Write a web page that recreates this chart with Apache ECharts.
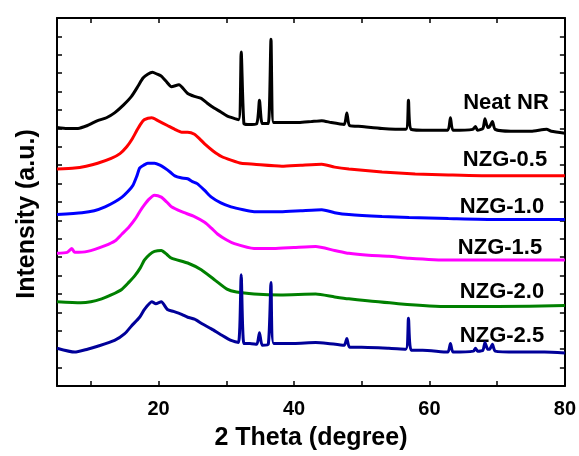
<!DOCTYPE html>
<html>
<head>
<meta charset="utf-8">
<script src="https://cdn.jsdelivr.net/npm/echarts@6/dist/echarts.min.js"></script>
<style>
  html, body { margin: 0; padding: 0; background: #fff; }
  #main { width: 579px; height: 456px; }
</style>
</head>
<body>
<div id="main"></div>
<script>
// 2 Theta (deg), intensity (a.u., offset per pattern)
const neatNR = [
  [5, 267], [6.5, 266], [8.1, 266], [9.5, 269], [11, 274], [12.3, 277], [13.5, 282],
  [14.8, 290], [16, 299], [17, 310], [17.7, 318], [18.4, 322], [19.1, 324], [19.8, 322],
  [20.4, 320], [21.2, 314], [21.9, 309], [23, 311], [24.3, 302], [25.3, 299], [26.3, 297],
  [27.2, 292], [28.2, 287], [29.2, 283], [30.1, 279], [31.8, 275], [32.2, 345], [32.6, 271],
  [33.2, 270], [34.5, 271], [34.9, 295], [35.3, 271], [36.2, 271], [36.6, 358], [37.0, 272],
  [38.5, 272], [40.7, 272], [42.5, 273], [44.1, 274], [45.5, 272], [47.4, 270], [47.8, 282],
  [48.2, 269], [50, 268], [53, 266], [56.5, 265], [56.9, 295], [57.3, 265], [60, 264],
  [62.7, 264], [63.1, 277], [63.5, 264], [66.4, 265], [66.8, 268], [67.1, 264], [67.9, 266],
  [68.2, 276], [68.6, 267], [68.9, 268], [69.3, 273], [69.7, 265], [72, 263], [75, 263],
  [77.3, 265], [78, 263], [80, 261]
];
const nzg05 = [
  [5, 224], [7.6, 225], [9.3, 227], [11, 230], [13, 235], [14.3, 240], [15.3, 247],
  [16.1, 255], [16.8, 264], [17.4, 271], [17.9, 275], [19, 277], [19.9, 274], [21.3, 269],
  [22.4, 265], [23.4, 262], [24.3, 262], [25.3, 260], [26.1, 255], [26.8, 250], [28, 243],
  [29.3, 237], [30.8, 233], [32.2, 230], [34.1, 229], [38.2, 227], [41, 228], [44.1, 229],
  [46, 226], [48.1, 224], [53, 221], [57.9, 219], [62.8, 218], [70, 217], [80, 217]
];
const nzg10 = [
  [5, 177], [8.7, 179], [10.5, 181], [12.1, 185], [13.5, 190], [14.6, 195], [15.5, 201],
  [16.2, 207], [16.8, 217], [17.2, 225], [17.8, 228], [18.4, 230], [19.4, 230], [20.2, 228],
  [20.9, 225], [21.7, 221], [22.4, 217], [23.3, 215], [24.3, 214], [25, 211], [25.7, 209],
  [26.8, 202], [27.8, 195], [29.2, 189], [30.7, 185], [32.5, 182], [34.1, 180], [38, 180],
  [41, 181], [44.1, 182], [46, 179], [48.1, 177], [53, 175], [57, 174], [62.8, 173],
  [70, 172], [80, 172]
];
const nzg15 = [
  [5, 137], [6.5, 138], [7.2, 142], [7.6, 138], [9.5, 139], [12.1, 145], [13.6, 150],
  [14.6, 157], [15.6, 164], [16.5, 172], [17.3, 181], [17.9, 187], [18.6, 193], [19.4, 197],
  [20.4, 195], [21.2, 190], [21.9, 185], [23.4, 180], [25.3, 175], [26.8, 169], [27.8, 163],
  [28.7, 157], [30, 151], [31.2, 147], [34.1, 142], [37, 142], [40, 143], [43.2, 144],
  [46, 140], [48.1, 137], [51, 135], [54, 134], [57, 132], [62.8, 130], [70, 130], [80, 130]
];
const nzg20 = [
  [5, 87], [8.5, 86], [10, 87], [11.6, 90], [13, 94], [14.6, 100], [15.6, 107], [16.5, 114],
  [17.3, 122], [17.9, 130], [18.7, 136], [19.4, 139], [20.4, 140], [21.2, 136], [21.9, 132],
  [24.3, 127], [26.3, 120], [28.2, 110], [30.1, 100], [31.5, 97], [34.1, 95], [38, 94],
  [43.2, 95], [46, 92], [48.1, 90], [55.4, 85], [62.8, 82], [70, 82], [80, 83]
];
const nzg25 = [
  [5, 39], [7.6, 35], [9.5, 38], [11, 41], [13.5, 47], [15, 54], [16, 62], [17.2, 71],
  [17.9, 79], [19, 87], [19.6, 85], [20.4, 87], [21.3, 79], [22.2, 77], [23.4, 74],
  [24.3, 71], [25.3, 69], [26.5, 64], [27.8, 59], [29.2, 53], [30.7, 47], [31.8, 45],
  [32.2, 115], [32.6, 44], [33.5, 44], [34.5, 43], [34.9, 55], [35.3, 42], [36.2, 43],
  [36.6, 107], [37.0, 44], [40, 44], [43.2, 45], [45, 44], [47.4, 42], [47.8, 49], [48.2, 40],
  [50, 40], [54, 39], [56.5, 38], [56.9, 70], [57.3, 37], [59, 37], [62.7, 35], [63.1, 44],
  [63.5, 35], [66.5, 36], [66.8, 39], [67.1, 36], [67.9, 37], [68.2, 45], [68.6, 38],
  [68.9, 38], [69.3, 43], [69.7, 36], [73, 35], [77, 35], [80, 34]
];

const seriesNames = ['Neat NR', 'NZG-0.5', 'NZG-1.0', 'NZG-1.5', 'NZG-2.0', 'NZG-2.5'];
const seriesData = [neatNR, nzg05, nzg10, nzg15, nzg20, nzg25];
const seriesColors = ['#000000', '#ff0000', '#0000ff', '#ff00ff', '#008000', '#000099'];
const labelPos = [[506, 103], [505, 160], [502, 207], [500, 248], [502, 292], [502, 336]];
const xTicks = [10, 20, 30, 40, 50, 60, 70, 80];
const xLabels = [20, 40, 60, 80];

const myChart = echarts.init(document.getElementById('main'));
const font = 'Liberation Sans, Arial, sans-serif';

const axisBase = {
  axisLine: { show: true, onZero: false, lineStyle: { color: '#000', width: 2 } },
  axisTick: { show: true, inside: true, length: 5, lineStyle: { color: '#000', width: 1.5 } },
  splitLine: { show: false },
};

const textStyle = (text, x, y, size, rotation) => ({
  type: 'text',
  x,
  y,
  rotation: rotation || 0,
  style: {
    text,
    fill: '#000',
    font: `bold ${size}px ${font}`,
    textAlign: 'center',
    textVerticalAlign: 'middle',
    align: 'center',
    verticalAlign: 'middle',
  },
});

const option = {
  animation: false,
  backgroundColor: '#fff',
  grid: { left: 57, right: 13, top: 18, bottom: 59 },
  xAxis: [
    {
      ...axisBase,
      type: 'value',
      position: 'bottom',
      min: 5,
      max: 80,
      axisTick: { ...axisBase.axisTick, customValues: xTicks },
      axisLabel: {
        customValues: xLabels,
        color: '#000',
        fontFamily: font,
        fontWeight: 'bold',
        fontSize: 20,
        margin: 13,
      },
      name: '2 Theta (degree)',
      nameLocation: 'middle',
      nameGap: 40,
      nameTextStyle: { color: '#000', fontFamily: font, fontWeight: 'bold', fontSize: 25 },
    },
    {
      ...axisBase,
      type: 'value',
      position: 'top',
      min: 5,
      max: 80,
      axisTick: { ...axisBase.axisTick, customValues: xTicks },
      axisLabel: { show: false },
    },
  ],
  yAxis: [
    {
      ...axisBase,
      type: 'value',
      position: 'left',
      min: 0,
      max: 380,
      interval: 19,
      axisLabel: { show: false },
    },
    {
      ...axisBase,
      type: 'value',
      position: 'right',
      min: 0,
      max: 380,
      interval: 19,
      axisLabel: { show: false },
    },
  ],
  series: seriesData.map((d, i) => ({
    name: seriesNames[i],
    type: 'line',
    data: d,
    symbol: 'none',
    smooth: 0.2,
    lineStyle: { color: seriesColors[i], width: 3 },
    itemStyle: { color: seriesColors[i] },
  })),
  graphic: seriesNames
    .map((n, i) => textStyle(n, labelPos[i][0], labelPos[i][1], 22))
    .concat([textStyle('Intensity (a.u.)', 27, 214, 25, Math.PI / 2)]),
};

myChart.setOption(option);
</script>
</body>
</html>
